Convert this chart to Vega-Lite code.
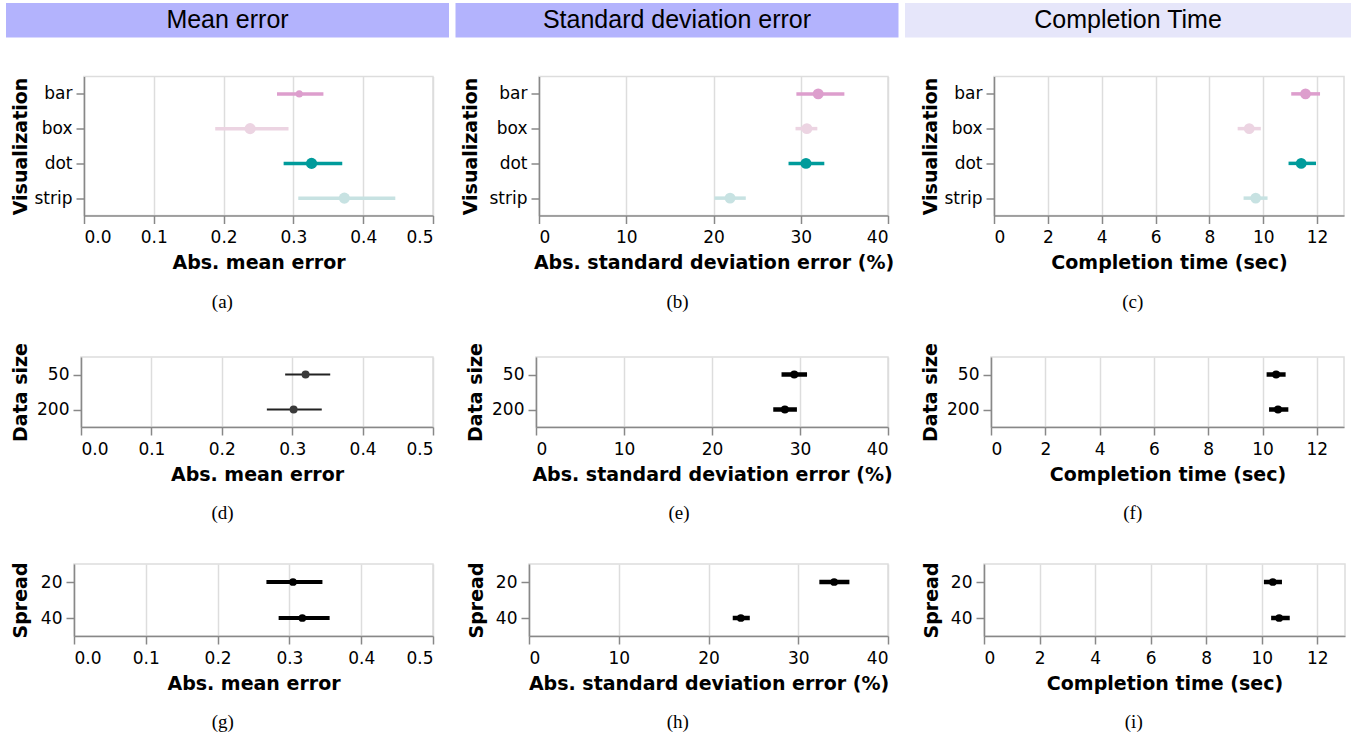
{
"$schema": "https://vega.github.io/schema/vega-lite/v6.json",
"padding": {"left": 6, "top": 3, "right": 0, "bottom": 0},
"background": "white",
"config": {
 "font": "DejaVu Sans",
 "view": {"stroke": "#ddd", "strokeWidth": 1.5},
 "axis": {"labelFont": "DejaVu Sans", "labelFontSize": 17, "titleFont": "DejaVu Sans", "titleFontSize": 19, "titleFontWeight": "bold", "tickSize": 8, "domainColor": "#888", "tickColor": "#888", "gridColor": "#ddd", "domainWidth": 1.5, "tickWidth": 1.5, "gridWidth": 1.5, "labelColor": "#000", "titleColor": "#000"},
 "axisX": {"labelPadding": 6, "titlePadding": 8, "grid": true},
 "axisY": {"labelPadding": 4, "grid": false},
 "title": {"font": "Liberation Serif", "fontSize": 19, "fontWeight": "normal", "orient": "bottom", "offset": 20, "color": "#000", "anchor": "middle", "frame": "bounds"}
},
"datasets": {
 "headers": [{"h": "Mean error"}, {"h": "Standard deviation error"}, {"h": "Completion Time"}],
 "blank": [{"t": ""}],
 "vis": [
  {"m": "mean", "v": "bar", "lo": 0.2765, "mid": 0.3084, "hi": 0.343},
  {"m": "mean", "v": "box", "lo": 0.188, "mid": 0.238, "hi": 0.293},
  {"m": "mean", "v": "dot", "lo": 0.286, "mid": 0.326, "hi": 0.370},
  {"m": "mean", "v": "strip", "lo": 0.307, "mid": 0.373, "hi": 0.446},
  {"m": "sd", "v": "bar", "lo": 29.5, "mid": 32.0, "hi": 35.0},
  {"m": "sd", "v": "box", "lo": 29.4, "mid": 30.7, "hi": 31.9},
  {"m": "sd", "v": "dot", "lo": 28.6, "mid": 30.6, "hi": 32.7},
  {"m": "sd", "v": "strip", "lo": 20.1, "mid": 21.9, "hi": 23.7},
  {"m": "time", "v": "bar", "lo": 11.04, "mid": 11.57, "hi": 12.11},
  {"m": "time", "v": "box", "lo": 9.05, "mid": 9.48, "hi": 9.91},
  {"m": "time", "v": "dot", "lo": 10.94, "mid": 11.41, "hi": 11.96},
  {"m": "time", "v": "strip", "lo": 9.27, "mid": 9.72, "hi": 10.16}
 ],
 "size": [
  {"m": "mean", "s": 50, "lo": 0.290, "mid": 0.319, "hi": 0.354},
  {"m": "mean", "s": 200, "lo": 0.264, "mid": 0.302, "hi": 0.342},
  {"m": "sd", "s": 50, "lo": 27.9, "mid": 29.35, "hi": 30.8},
  {"m": "sd", "s": 200, "lo": 26.96, "mid": 28.28, "hi": 29.65},
  {"m": "time", "s": 50, "lo": 10.15, "mid": 10.50, "hi": 10.85},
  {"m": "time", "s": 200, "lo": 10.24, "mid": 10.57, "hi": 10.95}
 ],
 "spread": [
  {"m": "mean", "s": 20, "lo": 0.268, "mid": 0.305, "hi": 0.346},
  {"m": "mean", "s": 40, "lo": 0.285, "mid": 0.318, "hi": 0.356},
  {"m": "sd", "s": 20, "lo": 32.35, "mid": 34.0, "hi": 35.7},
  {"m": "sd", "s": 40, "lo": 22.7, "mid": 23.6, "hi": 24.6},
  {"m": "time", "s": 20, "lo": 10.08, "mid": 10.40, "hi": 10.73},
  {"m": "time", "s": 40, "lo": 10.34, "mid": 10.63, "hi": 11.01}
 ]
},
"spacing": 28,
"vconcat": [
 {"spacing": 37.5, "vconcat": [
  {"spacing": 6.5, "hconcat": [
   {"width": 443, "height": 34.4, "view": {"fill": "#b3b3fd", "stroke": null}, "data": {"name": "headers"}, "transform": [{"filter": "datum.h == 'Mean error'"}], "mark": {"type": "text", "font": "Liberation Sans", "fontSize": 25, "color": "#000"}, "encoding": {"text": {"field": "h"}}},
   {"width": 443, "height": 34.4, "view": {"fill": "#b3b3fd", "stroke": null}, "data": {"name": "headers"}, "transform": [{"filter": "datum.h == 'Standard deviation error'"}], "mark": {"type": "text", "font": "Liberation Sans", "fontSize": 25, "color": "#000"}, "encoding": {"text": {"field": "h"}}},
   {"width": 446, "height": 34.4, "view": {"fill": "#e6e6fa", "stroke": null}, "data": {"name": "headers"}, "transform": [{"filter": "datum.h == 'Completion Time'"}], "mark": {"type": "text", "font": "Liberation Sans", "fontSize": 25, "color": "#000"}, "encoding": {"text": {"field": "h"}}}
  ]},
  {"bounds": "flush", "spacing": 0, "hconcat": [
   {"width": 78, "height": 139, "view": {"stroke": null}, "data": {"name": "blank"}, "mark": "text", "encoding": {"text": {"field": "t"}}},
   {"width": 349, "height": 139, "title": {"text": "(a)"}, "data": {"name": "vis"}, "transform": [{"filter": "datum.m == 'mean'"}],
    "encoding": {
     "y": {"field": "v", "type": "nominal", "sort": ["bar", "box", "dot", "strip"], "scale": {"type": "point", "padding": 0.5}, "axis": {"title": "Visualization", "titleX": -54}},
     "color": {"field": "v", "type": "nominal", "scale": {"domain": ["bar", "box", "dot", "strip"], "range": ["#dd9ecd", "#ecd4e2", "#009b9b", "#c7e2e2"]}, "legend": null}
    },
    "layer": [
     {"mark": {"type": "rule", "strokeWidth": 3.5}, "encoding": {"x": {"field": "lo", "type": "quantitative", "scale": {"domain": [0, 0.5], "nice": false}, "axis": {"values": [0, 0.1, 0.2, 0.3, 0.4, 0.5], "format": ".1f", "title": "Abs. mean error"}}, "x2": {"field": "hi"}}},
     {"mark": {"type": "point", "filled": true, "opacity": 1}, "encoding": {"x": {"field": "mid", "type": "quantitative", "scale": {"domain": [0, 0.5], "nice": false}, "axis": {"values": [0, 0.1, 0.2, 0.3, 0.4, 0.5], "format": ".1f", "title": "Abs. mean error"}}, "size": {"condition": {"test": "datum.v == 'bar'", "value": 50}, "value": 125}}}
    ]},
   {"width": 105.5, "height": 139, "view": {"stroke": null}, "data": {"name": "blank"}, "mark": "text", "encoding": {"text": {"field": "t"}}},
   {"width": 349, "height": 139, "title": {"text": "(b)"}, "data": {"name": "vis"}, "transform": [{"filter": "datum.m == 'sd'"}],
    "encoding": {
     "y": {"field": "v", "type": "nominal", "sort": ["bar", "box", "dot", "strip"], "scale": {"type": "point", "padding": 0.5}, "axis": {"title": "Visualization", "titleX": -58.5}},
     "color": {"field": "v", "type": "nominal", "scale": {"domain": ["bar", "box", "dot", "strip"], "range": ["#dd9ecd", "#ecd4e2", "#009b9b", "#c7e2e2"]}, "legend": null}
    },
    "layer": [
     {"mark": {"type": "rule", "strokeWidth": 3.5}, "encoding": {"x": {"field": "lo", "type": "quantitative", "scale": {"domain": [0, 40], "nice": false}, "axis": {"values": [0, 10, 20, 30, 40], "title": "Abs. standard deviation error (%)"}}, "x2": {"field": "hi"}}},
     {"mark": {"type": "point", "filled": true, "opacity": 1, "size": 120}, "encoding": {"x": {"field": "mid", "type": "quantitative", "scale": {"domain": [0, 40], "nice": false}, "axis": {"values": [0, 10, 20, 30, 40], "title": "Abs. standard deviation error (%)"}}}}
    ]},
   {"width": 105.5, "height": 139, "view": {"stroke": null}, "data": {"name": "blank"}, "mark": "text", "encoding": {"text": {"field": "t"}}},
   {"width": 350, "height": 139, "title": {"text": "(c)"}, "data": {"name": "vis"}, "transform": [{"filter": "datum.m == 'time'"}],
    "encoding": {
     "y": {"field": "v", "type": "nominal", "sort": ["bar", "box", "dot", "strip"], "scale": {"type": "point", "padding": 0.5}, "axis": {"title": "Visualization", "titleX": -53.5}},
     "color": {"field": "v", "type": "nominal", "scale": {"domain": ["bar", "box", "dot", "strip"], "range": ["#dd9ecd", "#ecd4e2", "#009b9b", "#c7e2e2"]}, "legend": null}
    },
    "layer": [
     {"mark": {"type": "rule", "strokeWidth": 3.5}, "encoding": {"x": {"field": "lo", "type": "quantitative", "scale": {"domain": [0, 13], "nice": false}, "axis": {"values": [0, 2, 4, 6, 8, 10, 12], "title": "Completion time (sec)"}}, "x2": {"field": "hi"}}},
     {"mark": {"type": "point", "filled": true, "opacity": 1, "size": 115}, "encoding": {"x": {"field": "mid", "type": "quantitative", "scale": {"domain": [0, 13], "nice": false}, "axis": {"values": [0, 2, 4, 6, 8, 10, 12], "title": "Completion time (sec)"}}}}
    ]}
  ]}
 ]},
 {"spacing": 37, "vconcat": [
  {"bounds": "flush", "spacing": 0, "hconcat": [
   {"width": 74.7, "height": 70, "view": {"stroke": null}, "data": {"name": "blank"}, "mark": "text", "encoding": {"text": {"field": "t"}}},
   {"width": 352, "height": 70, "title": {"text": "(d)"}, "data": {"name": "size"}, "transform": [{"filter": "datum.m == 'mean'"}],
    "encoding": {"y": {"field": "s", "type": "ordinal", "sort": [50, 200], "scale": {"type": "point", "padding": 0.5}, "axis": {"title": "Data size", "titleX": -50.7}}},
    "layer": [
     {"mark": {"type": "rule", "strokeWidth": 2, "color": "#222"}, "encoding": {"x": {"field": "lo", "type": "quantitative", "scale": {"domain": [0, 0.5], "nice": false}, "axis": {"values": [0, 0.1, 0.2, 0.3, 0.4, 0.5], "format": ".1f", "title": "Abs. mean error"}}, "x2": {"field": "hi"}}},
     {"mark": {"type": "point", "filled": true, "opacity": 1, "size": 64, "color": "#3a3a3a"}, "encoding": {"x": {"field": "mid", "type": "quantitative", "scale": {"domain": [0, 0.5], "nice": false}, "axis": {"values": [0, 0.1, 0.2, 0.3, 0.4, 0.5], "format": ".1f", "title": "Abs. mean error"}}}}
    ]},
   {"width": 102.5, "height": 70, "view": {"stroke": null}, "data": {"name": "blank"}, "mark": "text", "encoding": {"text": {"field": "t"}}},
   {"width": 352, "height": 70, "title": {"text": "(e)"}, "data": {"name": "size"}, "transform": [{"filter": "datum.m == 'sd'"}],
    "encoding": {"y": {"field": "s", "type": "ordinal", "sort": [50, 200], "scale": {"type": "point", "padding": 0.5}, "axis": {"title": "Data size", "titleX": -51}}},
    "layer": [
     {"mark": {"type": "rule", "strokeWidth": 4.5, "color": "#000"}, "encoding": {"x": {"field": "lo", "type": "quantitative", "scale": {"domain": [0, 40], "nice": false}, "axis": {"values": [0, 10, 20, 30, 40], "title": "Abs. standard deviation error (%)"}}, "x2": {"field": "hi"}}},
     {"mark": {"type": "point", "filled": true, "opacity": 1, "size": 64, "color": "#000"}, "encoding": {"x": {"field": "mid", "type": "quantitative", "scale": {"domain": [0, 40], "nice": false}, "axis": {"values": [0, 10, 20, 30, 40], "title": "Abs. standard deviation error (%)"}}}}
    ]},
   {"width": 102.5, "height": 70, "view": {"stroke": null}, "data": {"name": "blank"}, "mark": "text", "encoding": {"text": {"field": "t"}}},
   {"width": 353, "height": 70, "title": {"text": "(f)"}, "data": {"name": "size"}, "transform": [{"filter": "datum.m == 'time'"}],
    "encoding": {"y": {"field": "s", "type": "ordinal", "sort": [50, 200], "scale": {"type": "point", "padding": 0.5}, "axis": {"title": "Data size", "titleX": -50.5}}},
    "layer": [
     {"mark": {"type": "rule", "strokeWidth": 4.5, "color": "#000"}, "encoding": {"x": {"field": "lo", "type": "quantitative", "scale": {"domain": [0, 13], "nice": false}, "axis": {"values": [0, 2, 4, 6, 8, 10, 12], "title": "Completion time (sec)"}}, "x2": {"field": "hi"}}},
     {"mark": {"type": "point", "filled": true, "opacity": 1, "size": 64, "color": "#000"}, "encoding": {"x": {"field": "mid", "type": "quantitative", "scale": {"domain": [0, 13], "nice": false}, "axis": {"values": [0, 2, 4, 6, 8, 10, 12], "title": "Completion time (sec)"}}}}
    ]}
  ]},
  {"bounds": "flush", "spacing": 0, "hconcat": [
   {"width": 67.3, "height": 72, "view": {"stroke": null}, "data": {"name": "blank"}, "mark": "text", "encoding": {"text": {"field": "t"}}},
   {"width": 359, "height": 72, "title": {"text": "(g)"}, "data": {"name": "spread"}, "transform": [{"filter": "datum.m == 'mean'"}],
    "encoding": {"y": {"field": "s", "type": "ordinal", "sort": [20, 40], "scale": {"type": "point", "padding": 0.5}, "axis": {"title": "Spread", "titleX": -43.3}}},
    "layer": [
     {"mark": {"type": "rule", "strokeWidth": 4, "color": "#000"}, "encoding": {"x": {"field": "lo", "type": "quantitative", "scale": {"domain": [0, 0.5], "nice": false}, "axis": {"values": [0, 0.1, 0.2, 0.3, 0.4, 0.5], "format": ".1f", "title": "Abs. mean error"}}, "x2": {"field": "hi"}}},
     {"mark": {"type": "point", "filled": true, "opacity": 1, "size": 60, "color": "#000"}, "encoding": {"x": {"field": "mid", "type": "quantitative", "scale": {"domain": [0, 0.5], "nice": false}, "axis": {"values": [0, 0.1, 0.2, 0.3, 0.4, 0.5], "format": ".1f", "title": "Abs. mean error"}}}}
    ]},
   {"width": 95.5, "height": 72, "view": {"stroke": null}, "data": {"name": "blank"}, "mark": "text", "encoding": {"text": {"field": "t"}}},
   {"width": 359, "height": 72, "title": {"text": "(h)"}, "data": {"name": "spread"}, "transform": [{"filter": "datum.m == 'sd'"}],
    "encoding": {"y": {"field": "s", "type": "ordinal", "sort": [20, 40], "scale": {"type": "point", "padding": 0.5}, "axis": {"title": "Spread", "titleX": -43}}},
    "layer": [
     {"mark": {"type": "rule", "strokeWidth": 4.5, "color": "#000"}, "encoding": {"x": {"field": "lo", "type": "quantitative", "scale": {"domain": [0, 40], "nice": false}, "axis": {"values": [0, 10, 20, 30, 40], "title": "Abs. standard deviation error (%)"}}, "x2": {"field": "hi"}}},
     {"mark": {"type": "point", "filled": true, "opacity": 1, "size": 60, "color": "#000"}, "encoding": {"x": {"field": "mid", "type": "quantitative", "scale": {"domain": [0, 40], "nice": false}, "axis": {"values": [0, 10, 20, 30, 40], "title": "Abs. standard deviation error (%)"}}}}
    ]},
   {"width": 95.5, "height": 72, "view": {"stroke": null}, "data": {"name": "blank"}, "mark": "text", "encoding": {"text": {"field": "t"}}},
   {"width": 361, "height": 72, "title": {"text": "(i)"}, "data": {"name": "spread"}, "transform": [{"filter": "datum.m == 'time'"}],
    "encoding": {"y": {"field": "s", "type": "ordinal", "sort": [20, 40], "scale": {"type": "point", "padding": 0.5}, "axis": {"title": "Spread", "titleX": -42.5}}},
    "layer": [
     {"mark": {"type": "rule", "strokeWidth": 4.5, "color": "#000"}, "encoding": {"x": {"field": "lo", "type": "quantitative", "scale": {"domain": [0, 13], "nice": false}, "axis": {"values": [0, 2, 4, 6, 8, 10, 12], "title": "Completion time (sec)"}}, "x2": {"field": "hi"}}},
     {"mark": {"type": "point", "filled": true, "opacity": 1, "size": 60, "color": "#000"}, "encoding": {"x": {"field": "mid", "type": "quantitative", "scale": {"domain": [0, 13], "nice": false}, "axis": {"values": [0, 2, 4, 6, 8, 10, 12], "title": "Completion time (sec)"}}}}
    ]}
  ]}
 ]}
]
}
